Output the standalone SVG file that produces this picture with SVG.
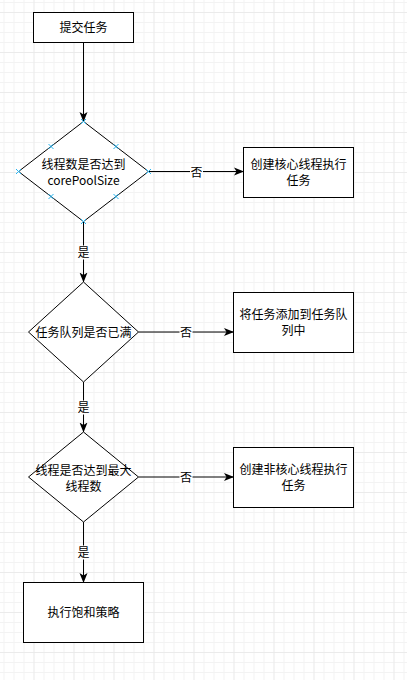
<svg xmlns="http://www.w3.org/2000/svg" width="407" height="680" viewBox="0 0 407 680">
<defs>
<pattern id="minor" x="3.5" y="2" width="10" height="10" patternUnits="userSpaceOnUse">
<path d="M0.5,0 V10 M0,0.5 H10" fill="none" stroke="#f3f3f3" stroke-width="1"/>
</pattern>
<pattern id="major" x="33.5" y="12" width="40" height="40" patternUnits="userSpaceOnUse">
<path d="M0,0 V40 M0,0 H40" fill="none" stroke="#e4e4e4" stroke-width="1"/>
</pattern>
<marker id="arr" markerWidth="10" markerHeight="10" viewBox="0 0 10 10" refX="9.5" refY="5" orient="auto" markerUnits="userSpaceOnUse">
<path d="M0,1 L10,5 L0,9 L2.5,5 z" fill="#000"/>
</marker>
<path id="cross" d="M-2.5,-2.5 L2.5,2.5 M-2.5,2.5 L2.5,-2.5" stroke="#29b6f2" stroke-width="1" fill="none"/>
</defs>
<style>
.n{fill:#fff;stroke:#000;stroke-width:1}
.t{font-family:"Noto Sans CJK SC","Liberation Sans",sans-serif;font-size:12px;fill:#000;text-anchor:middle}
.e{fill:none;stroke:#000;stroke-width:1}
.lb{fill:#fff}
</style>
<rect width="407" height="680" fill="#fff"/>
<rect width="407" height="680" fill="url(#minor)"/>
<rect width="407" height="680" fill="url(#major)"/>

<g id="connectors">
<path class="e" d="M83.5,42.5 V121.5" marker-end="url(#arr)"/>
<path class="e" d="M148.5,171.5 H243.5" marker-end="url(#arr)"/>
<path class="e" d="M83.5,221.5 V282" marker-end="url(#arr)"/>
<path class="e" d="M138.5,332 H233.5" marker-end="url(#arr)"/>
<path class="e" d="M83.5,382 V432" marker-end="url(#arr)"/>
<path class="e" d="M138.5,477 H233.5" marker-end="url(#arr)"/>
<path class="e" d="M83.5,522 V582.5" marker-end="url(#arr)"/>
<rect class="lb" x="190" y="165" width="13" height="14"/>
<text class="t" x="196.5" y="176.5">否</text>
<rect class="lb" x="77" y="245.5" width="13" height="14"/>
<text class="t" x="83.5" y="257">是</text>
<rect class="lb" x="179.5" y="325" width="13" height="14"/>
<text class="t" x="186" y="336.5">否</text>
<rect class="lb" x="77" y="400.5" width="13" height="14"/>
<text class="t" x="83.5" y="412">是</text>
<rect class="lb" x="179.5" y="470" width="13" height="14"/>
<text class="t" x="186" y="481.5">否</text>
<rect class="lb" x="77" y="545.5" width="13" height="14"/>
<text class="t" x="83.5" y="557">是</text>
</g>

<g id="submit">
<rect class="n" x="33.5" y="12.5" width="100" height="30"/>
<text class="t" x="83.5" y="31.5">提交任务</text>
</g>

<g id="check-core">
<path class="n" d="M83.5,121.5 L148.5,171.5 L83.5,221.5 L18.5,171.5 Z"/>
<text class="t" x="83.5" y="168.8">线程数是否达到</text>
<text class="t" x="83.5" y="184.8">corePoolSize</text>
<use href="#cross" x="83.5" y="121.5"/>
<use href="#cross" x="148.5" y="171.5"/>
<use href="#cross" x="83.5" y="221.5"/>
<use href="#cross" x="18.5" y="171.5"/>
<use href="#cross" x="51" y="146.5"/>
<use href="#cross" x="116" y="146.5"/>
<use href="#cross" x="51" y="196.5"/>
<use href="#cross" x="116" y="196.5"/>
</g>

<g id="create-core">
<rect class="n" x="243.5" y="147.5" width="110" height="50"/>
<text class="t" x="298.5" y="168.8">创建核心线程执行</text>
<text class="t" x="298.5" y="184.8">任务</text>
</g>

<g id="check-queue">
<path class="n" d="M83.5,282 L138.5,332 L83.5,382 L28.5,332 Z"/>
<text class="t" x="83.5" y="336.5">任务队列是否已满</text>
</g>

<g id="enqueue">
<rect class="n" x="233.5" y="292.5" width="120" height="60"/>
<text class="t" x="293.5" y="318.5">将任务添加到任务队</text>
<text class="t" x="293.5" y="334.5">列中</text>
</g>

<g id="check-max">
<path class="n" d="M83.5,432 L138.5,477 L83.5,522 L28.5,477 Z"/>
<text class="t" x="83.5" y="474.5">线程是否达到最大</text>
<text class="t" x="83.5" y="490.5">线程数</text>
</g>

<g id="create-noncore">
<rect class="n" x="233.5" y="447.5" width="120" height="60"/>
<text class="t" x="293.5" y="473.5">创建非核心线程执行</text>
<text class="t" x="293.5" y="489.5">任务</text>
</g>

<g id="reject">
<rect class="n" x="23.5" y="582.5" width="120" height="60"/>
<text class="t" x="83.5" y="616.5">执行饱和策略</text>
</g>
</svg>
